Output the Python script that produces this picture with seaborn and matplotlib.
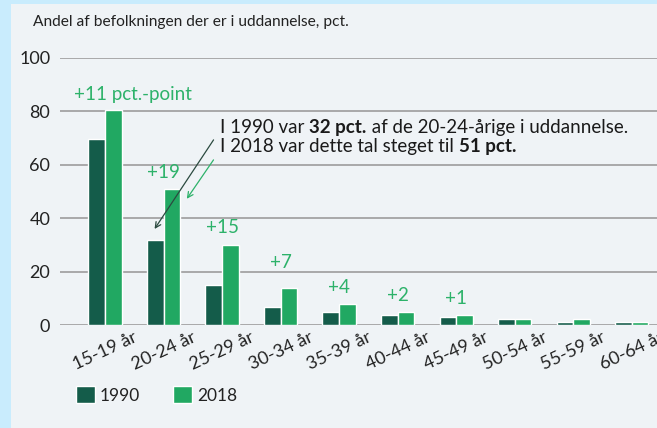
import matplotlib
matplotlib.use('Agg')
import matplotlib.pyplot as plt
from matplotlib.patches import Rectangle, Patch
import seaborn as sns
import pandas as pd

ages = ["15-19 år", "20-24 år", "25-29 år", "30-34 år", "35-39 år",
        "40-44 år", "45-49 år", "50-54 år", "55-59 år", "60-64 år"]
v1990 = [69.8, 32.0, 15.1, 6.9, 4.8, 3.6, 3.1, 2.1, 1.0, 1.1]
v2018 = [80.5, 51.0, 30.0, 13.9, 8.0, 5.0, 3.9, 2.1, 2.1, 1.0]
diff_labels = ["+11 pct.-point", "+19", "+15", "+7", "+4", "+2", "+1"]
diff_y = [86.5, 57, 36.4, 23.3, 14, 11, 10]

dark = "#145c4a"
light = "#21a862"
label_green = "#2db26a"

df = pd.DataFrame({
    "age": ages * 2,
    "value": v1990 + v2018,
    "year": ["1990"] * len(ages) + ["2018"] * len(ages),
})

sns.set_style("white")
plt.rcParams['font.family'] = ['Lato', 'DejaVu Sans']

W, H = 657, 428
fig = plt.figure(figsize=(W / 100, H / 100), dpi=100)
fig.patch.set_facecolor("#c9ecfd")
fig.add_artist(Rectangle((11 / W, 0), 1, 1 - 4 / H, transform=fig.transFigure,
                         facecolor="#eff3f6", edgecolor="none", zorder=0))

ax = fig.add_axes([60 / W, 1 - 325 / H, 601 / W, 267 / H])
ax.set_facecolor("none")
sns.barplot(data=df, x="age", y="value", hue="year", palette=[dark, light],
            saturation=1, width=0.57, gap=0, ax=ax, legend=False, zorder=3)

ax.set_xlim(-0.77, 9.5)
ax.set_ylim(0, 100)
ax.set_yticks([0, 20, 40, 60, 80, 100])
ax.yaxis.grid(True, color="#a3a3a3", lw=1.3, zorder=0)
ax.set_axisbelow(True)
for s in ax.spines.values():
    s.set_visible(False)
ax.set_xlabel("")
ax.set_ylabel("")
ax.tick_params(axis="y", length=0, pad=7, labelsize=13, labelcolor="#222222")
ax.tick_params(axis="x", length=0, pad=3, labelsize=13, labelcolor="#222222")
plt.setp(ax.get_xticklabels(), rotation=25, ha="center")

# differences
for i, (t, y) in enumerate(zip(diff_labels, diff_y)):
    xpos = 0.48 if i == 0 else i
    ax.text(xpos, y, t, ha="center", va="center", color=label_green, fontsize=13.5)

# callout text with bold pieces
renderer = fig.canvas.get_renderer()

def line(x, y, parts):
    for txt, bold in parts:
        t = ax.text(x, y, txt, fontsize=13.5, color="#1a1a1a",
                    fontweight="bold" if bold else "normal", va="baseline", ha="left")
        x1 = t.get_window_extent(renderer).x1
        x = ax.transData.inverted().transform((x1, 0))[0]

line(1.97, 72.0, [("I 1990 var ", False), ("32 pct.", True), (" af de 20-24-årige i uddannelse.", False)])
line(1.97, 64.8, [("I 2018 var dette tal steget til ", False), ("51 pct.", True)])

ax.annotate("", xy=(0.82, 35.1), xytext=(1.88, 70.2),
            arrowprops=dict(arrowstyle="->", color="#2b4a40", lw=0.9))
ax.annotate("", xy=(1.37, 46.4), xytext=(1.88, 62.7),
            arrowprops=dict(arrowstyle="->", color=label_green, lw=0.9))

fig.text(33 / W, 1 - 22 / H, "Andel af befolkningen der er i uddannelse, pct.",
         ha="left", va="center", fontsize=11.2, color="#222222")

handles = [Patch(facecolor=dark, label="1990"), Patch(facecolor=light, label="2018")]
fig.legend(handles=handles, loc="center left", bbox_to_anchor=(60 / W, 1 - 395 / H),
           ncol=2, frameon=False, fontsize=12.5, handlelength=1.1, handleheight=1.1,
           handletextpad=0.3, columnspacing=1.9, labelcolor="#222222")

fig.savefig("out.png", dpi=100, facecolor=fig.get_facecolor())
